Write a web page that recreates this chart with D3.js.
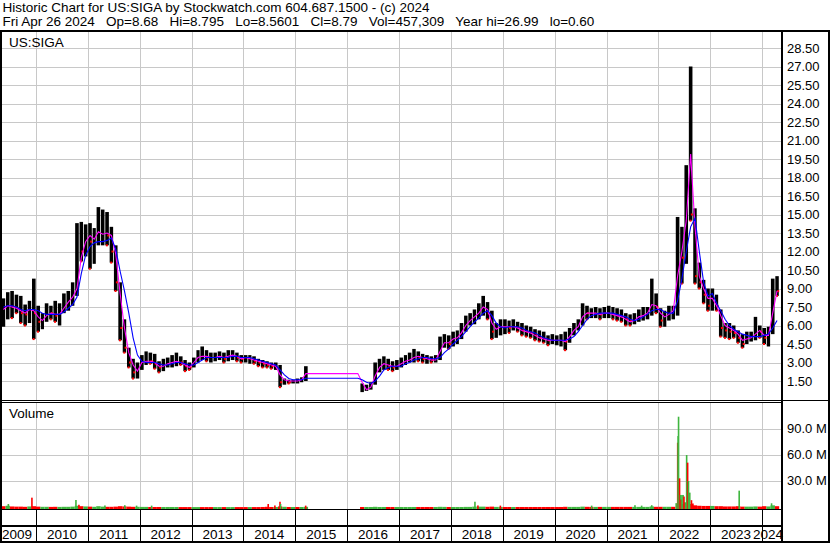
<!DOCTYPE html>
<html><head><meta charset="utf-8">
<script src="https://cdn.jsdelivr.net/npm/d3@7/dist/d3.min.js"></script>
<style>
body{margin:0;background:#fff;}
svg{display:block;font-family:"Liberation Sans",Arial,sans-serif;}
</style></head><body>
<svg id="c" width="830" height="543"></svg>
<script>
const title1 = "Historic Chart for US:SIGA by Stockwatch.com 604.687.1500 - (c) 2024";
const title2 = "Fri Apr 26 2024   Op=8.68   Hi=8.795   Lo=8.5601   Cl=8.79   Vol=457,309   Year hi=26.99   lo=0.60";
const symbolLabel = "US:SIGA";
const volumeLabel = "Volume";
const priceTicks = [1.5,3,4.5,6,7.5,9,10.5,12,13.5,15,16.5,18,19.5,21,22.5,24,25.5,27,28.5];
const volTicks = [30,60,90];
const years = [2009,2010,2011,2012,2013,2014,2015,2016,2017,2018,2019,2020,2021,2022,2023,2024];
const N = null;
// monthly values, May 2009 .. Apr 2024
const high = [
 8.2,8.7,8.8,8.5,8.4,7.7,8.0,9.8,
 7.6,7.0,7.8,7.6,8.0,7.8,8.6,8.8,9.5,14.3,14.4,14.2,
 14.3,13.9,15.6,15.4,15.2,14.0,12.5,9.5,6.5,4.2,3.3,3.0,
 3.6,3.9,3.8,3.7,3.1,3.3,3.4,3.6,3.8,3.5,3.2,3.0,
 3.4,4.0,4.3,4.0,3.8,3.8,3.9,3.8,4.0,4.0,3.8,3.6,
 3.6,3.6,3.5,3.3,3.2,3.1,3.0,3.0,2.8,1.7,1.6,1.6,
 1.7,1.8,2.7,N,N,N,N,N,N,N,N,N,
 N,N,N,1.3,1.2,1.4,3.0,3.3,3.5,3.3,3.1,3.2,
 3.4,3.6,3.8,4.1,3.9,3.7,3.6,3.5,3.6,5.1,5.3,5.2,
 5.5,5.6,6.2,6.8,7.0,7.3,7.8,8.4,7.9,7.2,6.2,6.5,
 6.5,6.4,6.5,6.3,6.2,6.0,5.9,5.7,5.6,5.5,5.2,5.3,
 5.2,5.3,5.5,5.8,6.2,6.5,7.8,7.6,7.4,7.5,7.4,7.5,
 7.6,7.5,7.4,7.3,7.0,6.9,7.0,7.3,7.5,7.5,9.8,8.6,
 7.4,7.2,7.6,7.6,14.8,14.0,19.0,27.0,15.5,11.1,9.7,9.0,
 9.0,8.5,7.3,6.2,6.2,6.0,5.6,5.3,5.5,5.5,6.7,6.0,
 5.8,5.9,9.8,10.0];
const low = [
 5.9,6.5,6.6,7.0,6.2,6.0,6.2,4.9,
 5.5,5.7,6.3,6.5,6.3,6.0,7.0,7.2,7.6,8.4,11.2,11.6,
 10.6,11.0,12.5,12.5,12.5,11.1,8.8,4.8,3.8,2.6,1.7,1.7,
 2.4,2.8,2.9,2.5,2.2,2.3,2.6,2.6,2.7,2.8,2.3,2.4,
 2.6,3.0,3.2,3.1,3.0,3.1,3.2,3.0,3.1,3.2,3.1,3.0,
 3.0,2.9,2.9,2.7,2.6,2.6,2.5,2.4,1.0,1.2,1.3,1.3,
 1.3,1.4,1.5,N,N,N,N,N,N,N,N,N,
 N,N,N,0.6,0.7,0.8,1.2,2.2,2.4,2.4,2.3,2.4,
 2.6,2.8,3.0,3.0,3.1,3.0,2.9,3.0,3.0,3.2,4.2,4.1,
 4.3,4.5,4.9,5.5,6.0,6.1,6.5,6.8,6.5,4.9,5.0,5.2,
 5.3,5.4,5.6,5.5,5.2,5.1,5.0,4.8,4.7,4.6,4.4,4.5,
 4.4,4.3,4.0,4.6,5.2,5.6,6.0,6.5,6.6,6.6,6.5,6.6,
 6.6,6.5,6.4,6.3,6.0,6.0,6.1,6.3,6.4,6.5,6.8,7.0,
 5.9,5.9,6.4,6.5,6.8,9.4,11.0,14.5,9.4,9.0,7.8,7.2,
 7.2,7.2,5.1,5.0,4.9,5.0,4.6,4.2,4.5,4.7,4.8,5.0,
 4.5,4.3,5.3,8.4];
const close = [
 7.0,7.8,7.5,7.4,7.0,6.9,7.5,7.0,
 6.3,6.5,7.2,7.0,6.8,7.2,8.0,8.3,8.6,13.5,12.0,13.2,
 12.8,13.0,13.5,14.0,13.3,12.0,9.5,5.8,4.2,3.0,2.2,2.6,
 3.0,3.2,3.1,2.9,2.6,2.8,3.0,3.1,3.2,3.0,2.7,2.6,
 3.2,3.6,3.6,3.4,3.4,3.5,3.6,3.3,3.6,3.7,3.4,3.3,
 3.3,3.4,3.1,3.0,2.9,2.8,2.7,2.8,1.4,1.5,1.4,1.5,
 1.5,1.6,2.5,N,N,N,N,N,N,N,N,N,
 N,N,N,0.9,1.0,1.2,2.6,2.8,3.0,2.7,2.6,2.7,
 3.1,3.2,3.4,3.6,3.4,3.3,3.3,3.2,3.3,4.6,4.7,4.5,
 5.0,5.2,5.8,6.4,6.5,6.8,7.3,7.6,7.0,5.5,5.8,6.0,
 6.0,5.8,6.0,5.8,5.6,5.5,5.4,5.2,5.0,4.9,4.8,4.8,
 4.8,4.8,4.7,5.4,5.8,6.0,7.2,7.0,7.0,7.1,6.9,7.0,
 7.1,6.9,6.8,6.7,6.5,6.4,6.6,6.8,7.0,7.1,8.0,7.5,
 6.4,6.6,7.0,7.0,12.0,11.5,17.0,15.0,10.0,9.5,8.5,7.6,
 7.8,7.6,5.8,5.6,5.5,5.4,5.0,4.5,5.0,5.2,5.6,5.5,
 5.0,5.4,9.0,8.79];
const maShort = [
 7.3,7.6,7.5,7.4,7.2,7.0,7.3,7.2,
 6.7,6.4,6.8,7.0,6.9,6.9,7.4,7.9,8.3,9.0,11.5,12.8,
 13.3,13.0,13.6,13.4,13.5,13.3,11.8,8.6,5.8,3.8,2.8,2.3,
 3.0,3.1,3.1,3.0,2.7,2.7,2.9,3.0,3.1,3.0,2.8,2.6,
 3.0,3.4,3.5,3.5,3.4,3.4,3.5,3.4,3.5,3.6,3.5,3.3,
 3.4,3.3,3.2,3.1,3.0,2.9,2.8,2.7,2.0,1.6,1.5,1.5,
 1.5,1.6,2.1,2.1,2.1,2.1,2.1,2.1,2.1,2.1,2.1,2.1,
 2.1,2.1,2.1,1.4,0.8,1.0,1.9,2.6,2.9,2.8,2.7,2.7,
 2.9,3.1,3.2,3.4,3.5,3.4,3.3,3.2,3.2,3.9,4.6,4.6,
 4.9,5.0,5.4,6.0,6.4,6.7,7.0,7.5,7.3,6.2,5.7,5.9,
 5.9,5.9,5.9,5.8,5.6,5.5,5.4,5.2,5.0,4.9,4.8,4.8,
 4.8,4.8,4.7,5.1,5.6,5.9,6.7,7.0,7.0,7.0,6.9,7.0,
 7.0,6.9,6.8,6.7,6.5,6.3,6.4,6.7,6.8,7.0,7.7,7.6,
 7.0,6.7,6.9,7.2,10.0,12.0,14.5,19.9,14.0,10.0,9.0,8.2,
 8.2,7.6,6.8,6.0,5.8,5.6,5.3,4.8,4.9,5.0,5.3,5.6,
 5.2,5.2,7.0,8.8];
const maLong = [
 7.5,7.6,7.6,7.5,7.3,7.2,7.3,7.3,
 7.2,7.0,6.9,6.9,6.9,6.9,7.1,7.4,7.7,8.3,10.2,11.7,
 12.4,12.7,12.8,12.8,12.9,13.1,12.2,10.4,8.8,7.0,5.0,3.6,
 3.1,3.0,3.0,3.0,2.9,2.8,2.8,2.9,3.0,3.0,2.9,2.8,
 2.8,3.0,3.2,3.4,3.4,3.4,3.4,3.4,3.4,3.5,3.5,3.4,
 3.4,3.4,3.3,3.2,3.1,3.0,2.9,2.8,2.4,2.0,1.7,1.6,
 1.6,1.6,1.72,1.72,1.72,1.72,1.72,1.72,1.72,1.72,1.72,1.72,
 1.72,1.72,1.72,1.6,1.4,1.3,1.5,1.9,2.4,2.6,2.7,2.7,
 2.7,2.9,3.0,3.2,3.3,3.4,3.4,3.3,3.3,3.4,3.8,4.1,
 4.5,4.8,5.1,5.5,5.9,6.3,6.6,7.0,7.2,6.8,6.2,5.9,
 5.8,5.9,5.9,5.9,5.8,5.6,5.5,5.4,5.2,5.0,4.9,4.8,
 4.8,4.8,4.8,4.9,5.1,5.5,6.0,6.5,6.8,6.9,7.0,7.0,
 7.0,7.0,6.9,6.8,6.7,6.5,6.4,6.5,6.7,6.9,7.2,7.3,
 7.3,7.1,7.0,7.0,8.0,9.8,12.0,14.0,14.7,12.0,9.5,8.4,
 8.6,7.8,7.2,6.5,6.0,5.7,5.5,5.3,5.2,5.1,5.1,5.1,
 5.2,5.3,5.8,6.4];
// typical daily volume per month (millions)
const volBase = [
 1.5,2.0,1.2,1.0,1.0,0.8,1.2,1.5,
 1.0,0.8,0.8,0.7,0.8,0.7,0.8,0.8,1.0,2.0,1.5,1.2,
 1.0,0.8,1.5,1.0,0.8,0.8,1.0,1.5,1.2,1.0,0.8,0.8,
 0.7,0.7,0.6,0.6,0.6,0.6,0.6,0.6,0.6,0.5,0.5,0.5,
 0.5,0.5,0.5,0.5,0.5,0.5,0.5,0.5,0.5,0.5,0.5,0.5,
 0.5,0.5,0.5,0.5,0.6,0.8,0.6,0.6,1.2,0.8,0.6,0.6,
 0.6,0.6,0.8,N,N,N,N,N,N,N,N,N,
 N,N,N,0.6,0.6,0.6,0.8,0.6,0.6,0.6,0.6,0.6,
 0.6,0.6,0.6,0.6,0.6,0.6,0.6,0.6,0.6,0.8,0.7,0.6,
 0.6,0.6,0.6,0.7,0.7,1.0,1.0,1.0,0.8,1.0,0.7,0.7,
 0.6,0.6,0.6,0.6,0.6,0.6,0.6,0.6,0.6,0.6,0.6,0.6,
 0.6,0.6,0.8,0.7,0.7,0.7,1.0,0.8,0.7,0.7,0.7,0.7,
 0.7,0.7,0.7,0.7,0.7,0.7,0.7,0.7,0.7,0.7,1.2,0.8,
 0.8,0.8,0.8,0.8,5.0,4.0,6.0,4.0,2.5,2.0,1.8,1.8,
 1.8,1.5,1.5,1.2,1.2,1.2,1.5,1.0,1.0,1.0,1.2,1.0,
 1.5,1.2,2.5,1.5];
// single heavy-volume days (millions)
const spikeDates = ["2009-06-20","2009-12-03","2010-10-09","2010-10-30","2011-05-01","2011-09-18","2011-12-10","2012-03-25",
 "2014-06-24","2014-08-10","2014-09-15","2014-09-19","2015-03-15","2018-06-19","2018-07-10","2018-12-15","2020-09-18",
 "2021-07-20","2021-09-05","2021-11-15","2022-05-17","2022-05-20","2022-05-23","2022-05-30","2022-06-06","2022-06-10",
 "2022-06-16","2022-06-24","2022-06-30","2022-07-19","2022-07-26","2022-08-01","2022-08-10","2022-08-22","2022-09-01",
 "2023-07-24","2024-03-08"];
const spikeVols = [2.9,10.2,7.5,2.0,1.2,1.5,1.0,1.0,
 2.9,1.2,5.5,2.9,1.0,5.5,1.2,1.0,1.0,
 1.5,1.0,1.5,73.6,81.3,103.6,32.5,13.3,8.0,
 13.3,13.3,11.5,59.4,50.6,29.4,16.0,7.3,3.5,
 18.3,3.7];
const spikeUp = [1,0,1,0,1,1,1,1, 0,0,0,1,0,1,0,0,1, 1,1,1,0,1,1,0,1,0, 1,1,0,1,0,1,1,0,0, 1,1];

const svg = d3.select("#c");
const months = d3.timeMonth.range(new Date(2009,4,1), new Date(2024,4,1));
const data = months.map((d,i)=>({d, e:d3.timeMonth.offset(d,1), hi:high[i], lo:low[i], cl:close[i],
  m1:maShort[i], m2:maLong[i], v:volBase[i], prev: i>0 ? close[i-1] : null}));

const x = d3.scaleTime().domain([new Date(2010,0,1), new Date(2024,0,1)]).range([36,762]);
const y = d3.scaleLinear().domain([0,28.5]).range([399.5,48]);
const yv = d3.scaleLinear().domain([0,90]).range([506.5,428.5]);
const L = 2, R = 781;
const grid = "#c8c8c8";
const GREEN = "#3fb63f", RED = "#ff0000";

// header
svg.append("text").attr("x",2.5).attr("y",12).attr("font-size",13.5).text(title1);
svg.append("text").attr("x",2.5).attr("y",26).attr("font-size",13.5).attr("xml:space","preserve").style("white-space","pre").text(title2);

// clip paths
const defs = svg.append("defs");
defs.append("clipPath").attr("id","cp").append("rect").attr("x",L).attr("y",32).attr("width",R-L).attr("height",368);
defs.append("clipPath").attr("id","cv").append("rect").attr("x",L).attr("y",403).attr("width",R-L).attr("height",106);

// grid
const gGrid = svg.append("g").attr("shape-rendering","crispEdges").attr("stroke",grid).attr("stroke-width",1);
gGrid.selectAll("line.h").data(priceTicks).join("line").attr("class","h")
  .attr("x1",L).attr("x2",R).attr("y1",d=>Math.round(y(d))+0.5).attr("y2",d=>Math.round(y(d))+0.5);
gGrid.selectAll("line.hv").data(volTicks).join("line").attr("class","hv")
  .attr("x1",L).attr("x2",R).attr("y1",d=>Math.round(yv(d))+0.5).attr("y2",d=>Math.round(yv(d))+0.5);
const yearEdges = years.slice(1).map(yr=>new Date(yr,0,1));
gGrid.selectAll("line.v").data(yearEdges).join("line").attr("class","v")
  .attr("x1",d=>Math.round(x(d))+0.5).attr("x2",d=>Math.round(x(d))+0.5).attr("y1",32).attr("y2",400);
gGrid.selectAll("line.v2").data(yearEdges).join("line").attr("class","v2")
  .attr("x1",d=>Math.round(x(d))+0.5).attr("x2",d=>Math.round(x(d))+0.5).attr("y1",403).attr("y2",509);

// price bars
const gP = svg.append("g").attr("clip-path","url(#cp)");
const pd = data.filter(d=>d.hi!=null);
gP.selectAll("rect.bar").data(pd).join("rect").attr("class","bar")
  .attr("x",d=>x(d.d)+0.4).attr("width",d=>Math.max(1,x(d.e)-x(d.d)-0.8))
  .attr("y",d=>y(d.hi)).attr("height",d=>Math.max(1,y(d.lo)-y(d.hi))).attr("fill","#000");
const downs = pd.filter(d=>d.prev!=null && d.cl<d.prev);
gP.selectAll("rect.dn").data(downs).join("rect").attr("class","dn")
  .attr("x",d=>x(d.e)-2).attr("width",2).attr("y",d=>y(d.cl)-1).attr("height",2).attr("fill",RED);
gP.selectAll("rect.lo").data(downs).join("rect").attr("class","lo")
  .attr("x",d=>x(d.d)+1).attr("width",2).attr("y",d=>y(d.lo)-1).attr("height",2).attr("fill",RED);

const mid = d=> (x(d.d)+x(d.e))/2;
gP.append("path").datum(data).attr("fill","none").attr("stroke","#ff00ff").attr("stroke-width",1.1)
  .attr("d",d3.line().x(mid).y(d=>y(d.m1)));
gP.append("path").datum(data).attr("fill","none").attr("stroke","#0000ff").attr("stroke-width",1.1)
  .attr("d",d3.line().x(mid).y(d=>y(d.m2)));

// volume
const gV = svg.append("g").attr("clip-path","url(#cv)");
const vd = data.filter(d=>d.v!=null);
gV.selectAll("rect.vb").data(vd).join("rect").attr("class","vb")
  .attr("x",d=>x(d.d)).attr("width",d=>x(d.e)-x(d.d))
  .attr("y",d=>yv(d.v)+1).attr("height",d=>509.5-yv(d.v)-1)
  .attr("fill",d=> (d.prev!=null && d.cl>d.prev) ? GREEN : RED);
const parse = d3.timeParse("%Y-%m-%d");
const spikes = spikeDates.map((s,i)=>({d:parse(s), v:spikeVols[i], up:spikeUp[i]}));
gV.selectAll("rect.sp").data(spikes).join("rect").attr("class","sp")
  .attr("x",d=>x(d.d)-0.75).attr("width",1.6)
  .attr("y",d=>yv(d.v)).attr("height",d=>509.5-yv(d.v))
  .attr("fill",d=>d.up ? GREEN : RED);

// frame lines
const frame = svg.append("g").attr("shape-rendering","crispEdges").attr("stroke","#000");
frame.append("line").attr("x1",0).attr("x2",830).attr("y1",31).attr("y2",31).attr("stroke-width",2);
frame.append("line").attr("x1",1).attr("x2",1).attr("y1",30).attr("y2",543).attr("stroke-width",2);
frame.append("line").attr("x1",829).attr("x2",829).attr("y1",30).attr("y2",543).attr("stroke-width",2);
frame.append("line").attr("x1",0).attr("x2",830).attr("y1",542).attr("y2",542).attr("stroke-width",2);
frame.append("line").attr("x1",782).attr("x2",782).attr("y1",30).attr("y2",543).attr("stroke-width",2);
frame.append("line").attr("x1",0).attr("x2",830).attr("y1",400.5).attr("y2",400.5);
frame.append("line").attr("x1",0).attr("x2",781).attr("y1",402.5).attr("y2",402.5);
frame.append("line").attr("x1",0).attr("x2",781).attr("y1",509.5).attr("y2",509.5);
frame.append("line").attr("x1",0).attr("x2",781).attr("y1",526).attr("y2",526).attr("stroke-width",2);
frame.selectAll("line.yb").data(yearEdges).join("line").attr("class","yb")
  .attr("x1",d=>Math.round(x(d))+0.5).attr("x2",d=>Math.round(x(d))+0.5).attr("y1",510).attr("y2",541);

// labels
svg.append("text").attr("x",9).attr("y",46.5).attr("font-size",13.5).text(symbolLabel);
svg.append("text").attr("x",9).attr("y",418).attr("font-size",13.5).text(volumeLabel);

const ax = svg.append("g").attr("transform","translate(782,0)")
  .call(d3.axisRight(y).tickValues(priceTicks).tickFormat(d3.format(".2f")).tickSize(0).tickPadding(5));
ax.select(".domain").remove();
ax.selectAll("text").attr("font-size",13).attr("font-family","'Liberation Sans',Arial,sans-serif").attr("fill","#000");
const axv = svg.append("g").attr("transform","translate(782,0)")
  .call(d3.axisRight(yv).tickValues(volTicks).tickFormat(d=>d3.format(".1f")(d)+" M").tickSize(0).tickPadding(5));
axv.select(".domain").remove();
axv.selectAll("text").attr("font-size",13).attr("font-family","'Liberation Sans',Arial,sans-serif").attr("fill","#000");

// year labels
const gY = svg.append("g");
years.forEach(yr=>{
  const a = x(new Date(yr,0,1)), b = x(new Date(yr+1,0,1));
  const t = gY.append("text").attr("font-size",13.5).attr("y",538.5).attr("text-anchor","middle").text(String(yr));
  const w = t.node().getComputedTextLength();
  let cx = (a+b)/2;
  if (cx - w/2 < 2) cx = 2 + w/2;
  if (cx + w/2 > 783) cx = 783 - w/2;
  t.attr("x",cx);
});
</script>
</body></html>
